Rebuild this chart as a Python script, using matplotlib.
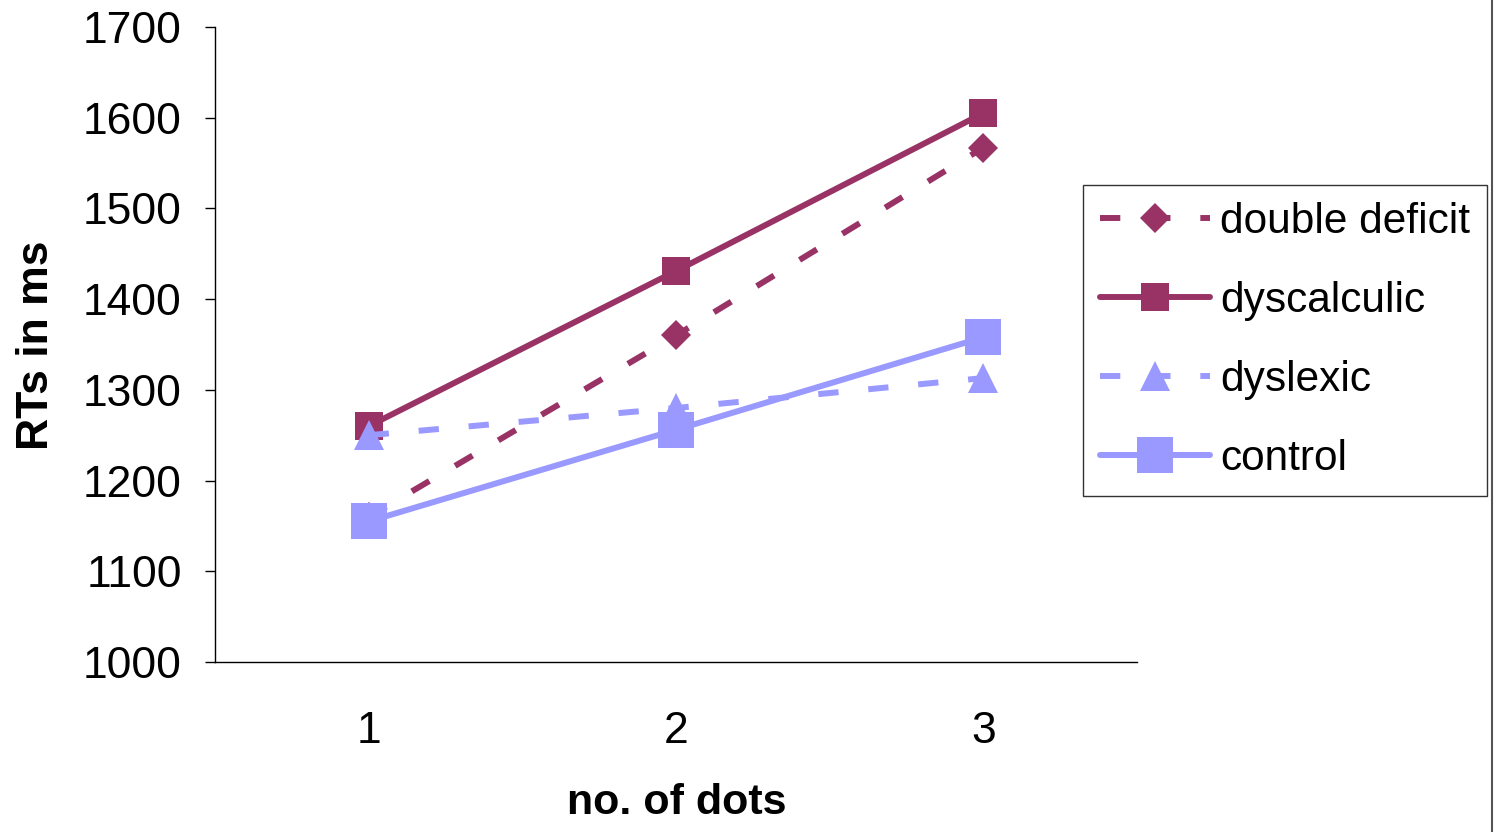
import matplotlib
matplotlib.use("Agg")
import matplotlib.pyplot as plt
from matplotlib.lines import Line2D

plt.rcParams['font.family'] = ['Liberation Sans', 'DejaVu Sans']

categories = [1, 2, 3]
double_deficit = [1160, 1360, 1567]
dyscalculic = [1260, 1431, 1605]
dyslexic = [1250, 1280, 1313]
control = [1155, 1256, 1358]

MAG = '#993366'
BLU = '#9999FF'

fig = plt.figure(figsize=(14.95, 8.32), dpi=100)
ax = fig.add_axes([215/1495, 1-662/832, (1137-215)/1495, (662-27)/832])

lw = 4.3
dash = (3.4, 5.0)
ax.plot(categories, double_deficit, color=MAG, lw=lw, dashes=dash, marker='D', ms=15,
        mec=MAG, mew=0, label='double deficit', dash_capstyle='butt')
ax.plot(categories, dyscalculic, color=MAG, lw=lw, marker='s', ms=19.5, mec=MAG, mew=0,
        label='dyscalculic', solid_capstyle='round')
ax.plot(categories, dyslexic, color=BLU, lw=lw, dashes=dash, marker='^', ms=21,
        mec=BLU, mew=0, label='dyslexic', dash_capstyle='butt')
ax.plot(categories, control, color=BLU, lw=lw, marker='s', ms=26, mec=BLU, mew=0,
        label='control', solid_capstyle='round')

ax.set_xlim(0.5, 3.5)
ax.set_ylim(1000, 1700)
ax.set_yticks(range(1000, 1701, 100))
ax.set_xticks(categories)
for s in ['top', 'right']:
    ax.spines[s].set_visible(False)
for s in ['left', 'bottom']:
    ax.spines[s].set_linewidth(1.0)
    ax.spines[s].set_color('black')
ax.tick_params(axis='y', labelsize=32, length=7, width=1, pad=17, direction='out')
ax.tick_params(axis='x', labelsize=32, length=0, pad=35)

fig.text(37/1495, 1-345/832, 'RTs in ms', rotation=90, fontsize=32, fontweight='bold',
         ha='center', va='center')
fig.text(677/1495, 1-803/832, 'no. of dots', fontsize=31, fontweight='bold',
         ha='center', va='center')

leg = fig.legend(loc='upper left', bbox_to_anchor=(1083/1495, 1-185/832), fontsize=30.5,
                 frameon=True, fancybox=False, shadow=False, borderaxespad=0,
                 handlelength=2.6, handletextpad=0.24, labelspacing=0.92,
                 borderpad=0.4, markerscale=1.0)
leg.get_frame().set_edgecolor('black')
leg.get_frame().set_linewidth(1.0)

fig.add_artist(Line2D([1492/1495, 1492/1495], [0, 1], transform=fig.transFigure,
                      color='#555555', lw=1.5))

fig.savefig('out.png', dpi=100)
